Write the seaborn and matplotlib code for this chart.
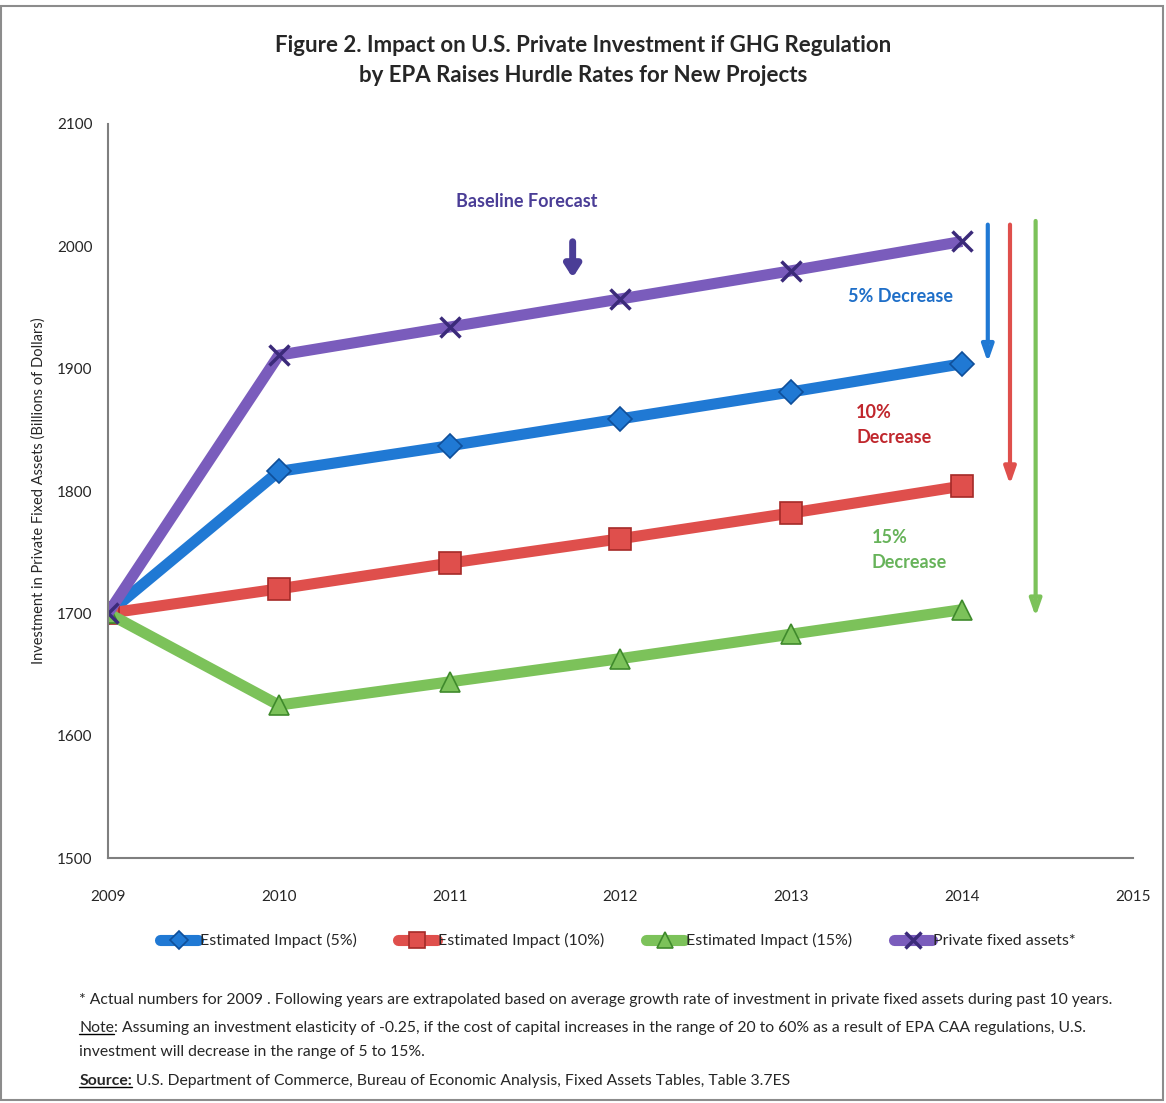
import matplotlib
matplotlib.use("Agg")
import matplotlib.pyplot as plt
from matplotlib.patches import Rectangle
from matplotlib.lines import Line2D
import seaborn as sns
import pandas as pd

# Years and investment series (billions of dollars)
years = [2009, 2010, 2011, 2012, 2013, 2014]
private_fixed_assets = [1700, 1911, 1934, 1957, 1980, 2004]
impact_5 = [1700, 1816, 1837, 1859, 1881, 1904]
impact_10 = [1700, 1720, 1741, 1761, 1782, 1804]
impact_15 = [1700, 1625, 1644, 1663, 1683, 1703]

series_names = ["Estimated Impact (5%)", "Estimated Impact (10%)",
                "Estimated Impact (15%)", "Private fixed assets*"]
series_values = [impact_5, impact_10, impact_15, private_fixed_assets]
x_ticks = [2009, 2010, 2011, 2012, 2013, 2014, 2015]
y_ticks = [1500, 1600, 1700, 1800, 1900, 2000, 2100]

colors = ["#2079d4", "#df4f4c", "#7cc25a", "#7a5cbc"]
edge_colors = ["#0f4f9a", "#a52a28", "#3f8a2c", "#3b2a7a"]
markers = ["D", "s", "^", "x"]
marker_sizes = [12, 16, 15, 15]
marker_edge_widths = [1.2, 1.2, 1.2, 2.5]

sns.set_style("white")
plt.rcParams["font.family"] = ["Lato", "DejaVu Sans"]

df = pd.DataFrame({
    "year": years * 4,
    "value": sum(series_values, []),
    "series": [n for n in series_names for _ in years],
})

fig = plt.figure(figsize=(11.66, 11.03), dpi=100)
ax = fig.add_axes([0.0926, 0.2221, 0.8791, 0.6655])

for i in range(4):
    sub = df[df["series"] == series_names[i]]
    sns.lineplot(data=sub, x="year", y="value", ax=ax, color=colors[i],
                 linewidth=8, marker=markers[i], markersize=marker_sizes[i],
                 markerfacecolor=colors[i], markeredgecolor=edge_colors[i],
                 markeredgewidth=marker_edge_widths[i], legend=False,
                 solid_capstyle="butt")

ax.set_xlim(2009, 2015)
ax.set_ylim(1500, 2100)
ax.set_xticks(x_ticks)
ax.set_yticks(y_ticks)
ax.set_xticklabels([str(t) for t in x_ticks], fontsize=11)
ax.set_yticklabels([str(t) for t in y_ticks], fontsize=11)
ax.tick_params(axis="x", direction="out", length=5, width=1.2, color="#808080", pad=18)
ax.tick_params(axis="y", direction="out", length=5, width=1.2, color="#808080", pad=6)
for side in ["top", "right"]:
    ax.spines[side].set_visible(False)
for side in ["left", "bottom"]:
    ax.spines[side].set_color("#7f7f7f")
    ax.spines[side].set_linewidth(1.5)
ax.set_xlabel("")
ax.set_ylabel("Investment in Private Fixed Assets (Billions of Dollars)", fontsize=10.5, labelpad=8)

# Title
fig.text(0.50, 0.945, "Figure 2. Impact on U.S. Private Investment if GHG Regulation\n"
         "by EPA Raises Hurdle Rates for New Projects",
         ha="center", va="center", fontsize=16, fontweight="bold", linespacing=1.5)

# Annotations
ax.text(2011.45, 2037, "Baseline Forecast", color="#4a3d96", fontsize=13,
        fontweight="bold", ha="center", va="center")
ax.annotate("", xy=(2011.72, 1972), xytext=(2011.72, 2006),
            arrowprops=dict(arrowstyle="-|>,head_width=0.45,head_length=0.7",
                            color="#4a3d96", lw=5))
ax.text(2013.64, 1959, "5% Decrease", color="#1f6fc8", fontsize=13,
        fontweight="bold", ha="center", va="center")
ax.text(2013.38, 1854, "10%\nDecrease", color="#c0272d", fontsize=13,
        fontweight="bold", ha="left", va="center", linespacing=1.6)
ax.text(2013.47, 1752, "15%\nDecrease", color="#67b35a", fontsize=13,
        fontweight="bold", ha="left", va="center", linespacing=1.6)

arrow_specs = [
    (2014.15, 2020, 1903, colors[0]),
    (2014.28, 2020, 1803, colors[1]),
    (2014.43, 2023, 1695, colors[2]),
]
for xa, y0, y1, c in arrow_specs:
    ax.annotate("", xy=(xa, y1), xytext=(xa, y0),
                arrowprops=dict(arrowstyle="-|>,head_width=0.35,head_length=1.0",
                                color=c, lw=3, fill=False),
                annotation_clip=False)

# Legend
handles = [Line2D([0], [0], color=colors[i], lw=8, marker=markers[i],
                  markersize=marker_sizes[i] * 0.75, markerfacecolor=colors[i],
                  markeredgecolor=edge_colors[i],
                  markeredgewidth=marker_edge_widths[i]) for i in range(4)]
fig.legend(handles, series_names, loc="center", bbox_to_anchor=(0.53, 0.147),
           ncol=4, frameon=False, fontsize=11.5, handlelength=2.4,
           handletextpad=0.1, columnspacing=2.6)

# Footnotes
foot_x = 0.068
fs = 11.3
fig.text(foot_x, 0.093, "* Actual numbers for 2009 . Following years are extrapolated based on "
         "average growth rate of investment in private fixed assets during past 10 years.",
         fontsize=fs, va="center")
note = fig.text(foot_x, 0.068, "Note", fontsize=fs, va="center")
fig.canvas.draw()
renderer = fig.canvas.get_renderer()


def underline_and_follow(label, rest, y):
    bb = label.get_window_extent(renderer).transformed(fig.transFigure.inverted())
    fig.add_artist(Line2D([bb.x0, bb.x1], [bb.y0 + 0.001, bb.y0 + 0.001],
                          transform=fig.transFigure, color="black", lw=1))
    fig.text(bb.x1, y, rest, fontsize=fs, va="center")


underline_and_follow(note, ": Assuming an investment elasticity of -0.25, if the cost of capital "
                     "increases in the range of 20 to 60% as a result of EPA CAA regulations, U.S.",
                     0.068)
fig.text(foot_x, 0.046, "investment will decrease in the range of 5 to 15%.", fontsize=fs, va="center")
source = fig.text(foot_x, 0.020, "Source:", fontsize=fs, va="center", fontweight="bold")
underline_and_follow(source, " U.S. Department of Commerce, Bureau of Economic Analysis, "
                     "Fixed Assets Tables, Table 3.7ES", 0.020)

# Outer frame
fig.add_artist(Rectangle((0.001, 0.003), 0.996, 0.992, transform=fig.transFigure,
                         fill=False, edgecolor="#8c8c8c", lw=1.5))

fig.savefig("out.png", dpi=100, facecolor="white")
